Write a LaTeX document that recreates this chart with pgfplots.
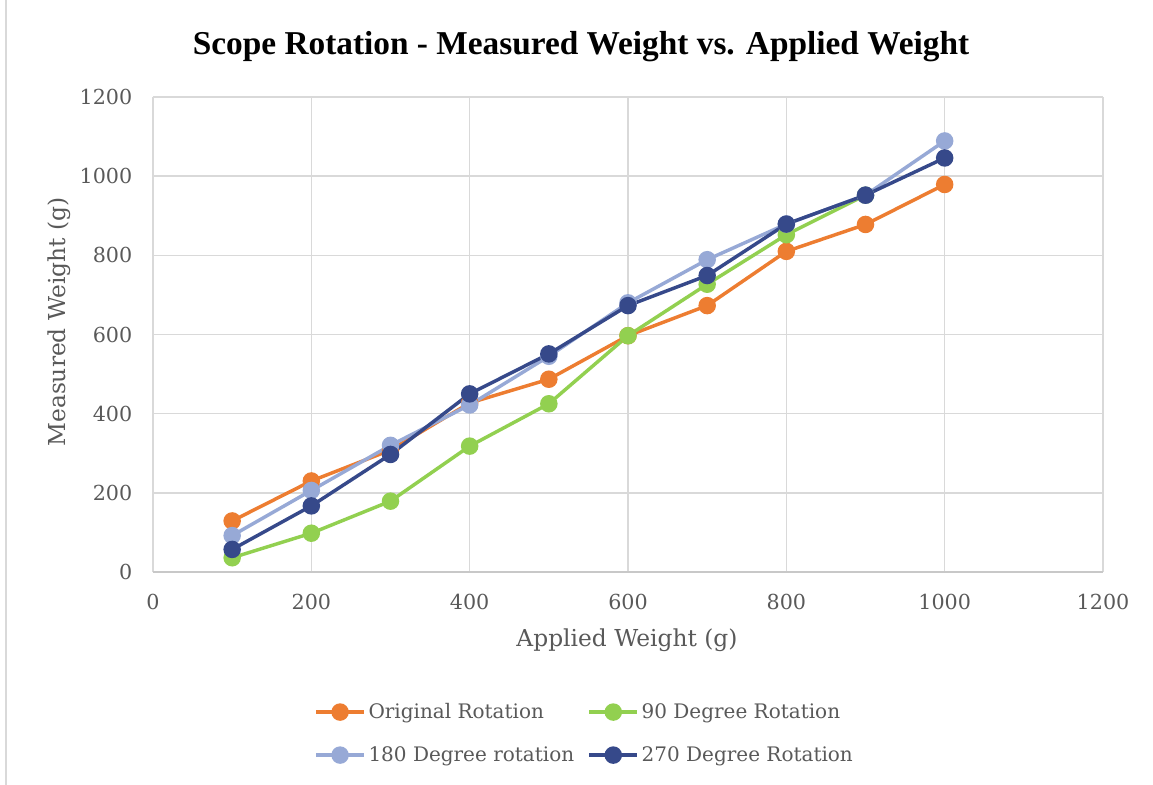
\documentclass[border=0pt]{standalone}
\usepackage{fontspec}
\setmainfont{DejaVu Serif}
\newfontfamily\titlefont{Liberation Serif}
\usepackage{pgfplots}
\pgfplotsset{compat=1.18}
\definecolor{cOrig}{HTML}{ED7D31}
\definecolor{cNinety}{HTML}{92D050}
\definecolor{cOneEighty}{HTML}{97A9D6}
\definecolor{cTwoSeventy}{HTML}{36498A}
\definecolor{txt}{HTML}{595959}
\definecolor{gridc}{HTML}{D9D9D9}
\definecolor{axisc}{HTML}{C8C8C8}
\begin{document}
\begin{tikzpicture}
\path[use as bounding box] (-114.75pt,-159.75pt) rectangle (750pt,429pt);
\draw[draw=gridc, line width=1.2pt] (-110.25pt,-159.75pt) -- (-110.25pt,429pt);
\begin{axis}[
  at={(0,0)}, anchor=south west,
  scale only axis, width=712.5pt, height=356.25pt,
  xmin=0, xmax=1200, ymin=0, ymax=1200,
  xtick={0,200,400,600,800,1000,1200}, ytick={0,200,400,600,800,1000,1200},
  grid=major, major grid style={draw=gridc, line width=1.1pt},
  axis line style={draw=none},
  tick style={draw=none},
  ticklabel style={font=\fontsize{15.5pt}{17pt}\selectfont, text=txt},
  /pgf/number format/assume math mode=true,
  /pgf/number format/1000 sep={},
  xticklabel style={yshift=-13pt},
  yticklabel style={xshift=-12pt},
  clip=false,
  legend columns=2,
  legend style={at={(0.4547,-0.265)}, anchor=north, draw=none, fill=none,
    font=\fontsize{15pt}{17pt}\selectfont, text=txt,
    /tikz/every even column/.append style={column sep=8pt},
    row sep=15.5pt},
  legend cell align=left,
  legend image code/.code={%
    \draw[#1, mark repeat=2, mark phase=2] plot coordinates {(0pt,0pt)(18pt,0pt)(36pt,0pt)};},
  every axis plot/.append style={line width=2.6pt, mark=*, mark size=5.25pt},
]
\draw[draw=axisc, line width=1.2pt] (axis cs:0,0) -- (axis cs:1200,0);
\addplot[color=cOrig, mark options={fill=cOrig, draw=cOrig}] coordinates {
(100,129)(200,230)(300,308)(400,427)(500,487)(600,597)(700,673)(800,810)(900,878)(1000,979)};
\addlegendentry{Original Rotation}
\addplot[color=cNinety, mark options={fill=cNinety, draw=cNinety}] coordinates {
(100,36)(200,98)(300,179)(400,318)(500,425)(600,597)(700,727)(800,852)(900,952)};
\addlegendentry{90 Degree Rotation}
\addplot[color=cOneEighty, mark options={fill=cOneEighty, draw=cOneEighty}] coordinates {
(100,92)(200,206)(300,320)(400,422)(500,545)(600,680)(700,789)(800,879)(900,952)(1000,1089)};
\addlegendentry{180 Degree rotation}
\addplot[color=cTwoSeventy, mark options={fill=cTwoSeventy, draw=cTwoSeventy}] coordinates {
(100,57)(200,167)(300,297)(400,450)(500,551)(600,673)(700,749)(800,879)(900,952)(1000,1046)};
\addlegendentry{270 Degree Rotation}
\end{axis}
\node[font=\titlefont\bfseries\fontsize{25pt}{28pt}\selectfont, text=black] at (321pt,394pt) {Scope Rotation - Measured Weight vs. Applied Weight};
\node[font=\fontsize{17.5pt}{20pt}\selectfont, text=txt] at (355.5pt,-51pt) {Applied Weight (g)};
\node[font=\fontsize{17.5pt}{20pt}\selectfont, text=txt, rotate=90] at (-70.5pt,187.5pt) {Measured Weight (g)};
\end{tikzpicture}
\end{document}
